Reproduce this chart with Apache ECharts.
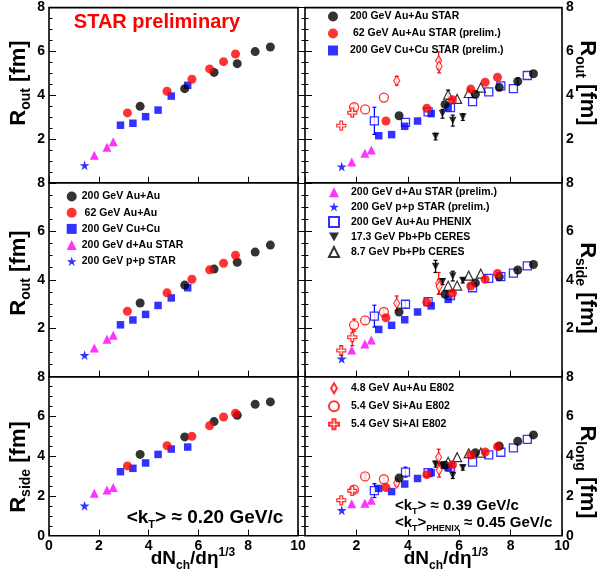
<!DOCTYPE html>
<html><head><meta charset="utf-8">
<script src="https://cdn.jsdelivr.net/npm/echarts@6/dist/echarts.min.js"></script>
<style>html,body{margin:0;padding:0;background:#fff}#c{width:602px;height:574px}</style>
</head><body><div id="c"></div>
<script>
// ---------------- DATA ----------------
// x = (dNch/deta)^(1/3)
const xAuAu200 = [3.66, 5.45, 6.63, 7.56, 8.28, 8.89];
const xAuAu62  = [3.15, 4.74, 5.74, 6.45, 7.01, 7.49];
const xCuCu    = [2.87, 3.37, 3.88, 4.38, 4.91, 5.57];
const xdAu     = [1.82, 2.33, 2.58];
const xpp      = [1.43];
const xPhenix  = [2.70, 3.91, 4.79, 5.66, 6.52, 7.15, 7.62, 8.11, 8.65];
const xCeres17 = [5.08, 5.35, 5.75, 6.14];
const xCeres9  = [5.57, 5.92, 6.37, 6.84];
const xE802Au  = [3.57, 5.20, 5.22];
const xE802SiAu = [1.91, 2.34, 3.07];
const xE802SiAl = [1.41, 1.84];

// left column, <kT> ~ 0.20 GeV/c
const loTopAuAu200 = [3.49, 4.30, 5.04, 5.44, 5.99, 6.20];
const loTopAuAu62  = [3.19, 4.18, 4.73, 5.20, 5.53, 5.88];
const loTopCuCu    = [2.63, 2.72, 3.02, 3.32, 3.96, 4.45];
const loTopdAu     = [1.26, 1.62, 1.88];
const loToppp      = [0.80];

const loMidAuAu200 = [3.04, 3.78, 4.44, 4.72, 5.14, 5.43];
const loMidAuAu62  = [2.70, 3.46, 4.02, 4.41, 4.68, 5.01];
const loMidCuCu    = [2.14, 2.34, 2.57, 2.94, 3.25, 3.67];
const loMiddAu     = [1.18, 1.55, 1.71];
const loMidpp      = [0.89];

const loBotAuAu200 = [4.09, 4.97, 5.74, 6.06, 6.61, 6.73];
const loBotAuAu62  = [3.51, 4.53, 5.00, 5.53, 5.97, 6.16];
const loBotCuCu    = [3.22, 3.39, 3.66, 4.09, 4.36, 4.46];
const loBotdAu     = [2.13, 2.30, 2.42];
const loBotpp      = [1.51];

// right column, <kT> ~ 0.39 GeV/c : Rout
const outAuAu200 = [3.06, 3.58, 4.04, 4.36, 4.63, 4.98];
const outAuAu62  = [2.82, 3.40, 3.79, 4.28, 4.59, 4.82];
const outCuCu    = [2.15, 2.20, 2.58, 2.82, 3.16, 3.43];
const outdAu     = [0.95, 1.35, 1.50];
const outpp      = [0.74];
const outPhenix  = [2.83, 2.76, 3.24, 3.43, 3.71, 4.15, 4.43, 4.30, 4.90];
const outCeres17 = [2.11, 3.15, 2.84, 3.00];
const outCeres9  = [4.03, 3.83, 4.10, 4.35];
const outE802Au  = [4.66, 5.58, 5.32];
const outE802SiAu = [3.45, 3.35, 3.89];
const outE802SiAl = [2.61, 3.20];
const errOutAuAu200 = [0, 0, 0, 0.15, 0.15, 0];
const errOutPhenix  = [0.62, 0, 0, 0, 0, 0, 0, 0, 0];
const errOutCeres17 = [0.15, 0.2, 0.25, 0.15];
const errOutCeres9  = [0.2, 0, 0, 0];
const errOutE802Au  = [0.2, 0.4, 0.3];
const errOutE802SiAu = [0.12, 0, 0];
const errOutE802SiAl = [0, 0.12];

// Rside
const sideAuAu200 = [2.67, 3.40, 3.87, 4.12, 4.40, 4.63];
const sideAuAu62  = [2.43, 3.07, 3.45, 3.74, 4.02, 4.26];
const sideCuCu    = [1.95, 2.12, 2.35, 2.67, 2.92, 3.19];
const sidedAu     = [1.10, 1.35, 1.51];
const sidepp      = [0.74];
const sidePhenix  = [2.50, 2.99, 3.10, 3.35, 3.67, 4.06, 4.13, 4.27, 4.57];
const sideCeres17 = [4.55, 3.92, 4.15, 3.97];
const sideCeres9  = [3.75, 3.76, 4.17, 4.25];
const sideE802Au  = [3.03, 3.85, 3.72];
const sideE802SiAu = [2.13, 2.32, 2.67];
const sideE802SiAl = [1.08, 1.63];
const errSidePhenix  = [0.45, 0.15, 0, 0, 0, 0, 0, 0, 0];
const errSideCeres17 = [0.25, 0.12, 0.2, 0.1];
const errSideE802Au  = [0.3, 0.45, 0.3];
const errSideE802SiAu = [0.25, 0.15, 0.1];
const errSideE802SiAl = [0.2, 0.35];

// Rlong
const longAuAu200 = [2.90, 3.55, 4.17, 4.51, 4.75, 5.07];
const longAuAu62  = [2.42, 3.07, 3.57, 4.06, 4.21, 4.48];
const longCuCu    = [2.38, 2.22, 2.60, 2.88, 3.17, 3.42];
const longdAu     = [1.61, 1.63, 1.78];
const longpp      = [1.28];
const longPhenix  = [2.27, 3.20, 3.17, 3.45, 3.70, 4.07, 4.20, 4.42, 4.85];
const longCeres17 = [3.60, 3.55, 3.03, 3.42];
const longCeres9  = [3.72, 3.95, 4.15, 4.18];
const longE802Au  = [2.65, 3.95, 3.30];
const longE802SiAu = [2.32, 2.98, 2.84];
const longE802SiAl = [1.78, 2.26];
const errLongPhenix  = [0.35, 0.25, 0, 0, 0, 0, 0, 0, 0];
const errLongCeres17 = [0.15, 0.15, 0.15, 0.12];
const errLongE802Au  = [0.15, 0.4, 0.35];
const errLongE802SiAu = [0.1, 0.12, 0.1];
const errLongE802SiAl = [0.1, 0.1];

const yTicks = [0, 2, 4, 6, 8];
const xTicks = [0, 2, 4, 6, 8, 10];

// ---------------- STYLE ----------------
const FONT = '"Liberation Sans", Arial, Helvetica, sans-serif';
const STAR = 'path://M50,0 L61,35 L98,35 L68,57 L79,91 L50,70 L21,91 L32,57 L2,35 L39,35 Z';
const PLUS = 'path://M35,0 L65,0 L65,35 L100,35 L100,65 L65,65 L65,100 L35,100 L35,65 L0,65 L0,35 L35,35 Z';
const INVTRI = 'path://M0,0 L100,0 L50,90 Z';
const DIAM = 'path://M30,0 L60,50 L30,100 L0,50 Z';
const ST = {
  AuAu200: {symbol: 'circle', symbolSize: 9, itemStyle: {color: '#000'}},
  AuAu62:  {symbol: 'circle', symbolSize: 9, itemStyle: {color: '#ff0000'}},
  CuCu:    {symbol: 'rect', symbolSize: 7.5, itemStyle: {color: '#0000ff'}},
  dAu:     {symbol: 'triangle', symbolSize: 9, itemStyle: {color: '#ff00ff'}},
  pp:      {symbol: STAR, symbolSize: 10, itemStyle: {color: '#0000ff'}},
  Phenix:  {symbol: 'rect', symbolSize: 8, itemStyle: {color: '#fff', borderColor: '#0000ff', borderWidth: 1.3}},
  Ceres17: {symbol: 'triangle', symbolSize: 7.5, symbolRotate: 180, itemStyle: {color: '#000'}},
  Ceres9:  {symbol: 'triangle', symbolSize: 9, itemStyle: {color: '#fff', borderColor: '#000', borderWidth: 1.2}},
  E802Au:  {symbol: 'diamond', symbolSize: [6, 10], itemStyle: {color: '#fff', borderColor: '#ff0000', borderWidth: 1.2}},
  E802SiAu:{symbol: 'circle', symbolSize: 9, itemStyle: {color: '#fff', borderColor: '#ff0000', borderWidth: 1.3}},
  E802SiAl:{symbol: PLUS, symbolSize: 9, itemStyle: {color: '#fff', borderColor: '#ff0000', borderWidth: 1.2}}
};
const ERRCOL = {AuAu200: '#000', Phenix: '#0000ff', Ceres17: '#000', Ceres9: '#000', E802Au: '#ff0000', E802SiAu: '#ff0000', E802SiAl: '#ff0000'};

const NL = {AuAu200: '200 GeV Au+Au', AuAu62: ' 62 GeV Au+Au', CuCu: '200 GeV Cu+Cu', dAu: '200 GeV d+Au STAR', pp: '200 GeV p+p STAR'};
const NR = {AuAu200: '200 GeV Au+Au STAR', AuAu62: ' 62 GeV Au+Au STAR (prelim.)', CuCu: '200 GeV Cu+Cu STAR (prelim.)',
  dAu: '200 GeV d+Au STAR (prelim.)', pp: '200 GeV p+p STAR (prelim.)', Phenix: '200 GeV Au+Au PHENIX',
  Ceres17: '17.3 GeV Pb+Pb CERES', Ceres9: '8.7 GeV Pb+Pb CERES', E802Au: '4.8 GeV Au+Au E802',
  E802SiAu: '5.4 GeV Si+Au E802', E802SiAl: '5.4 GeV Si+Al E802'};

const XS = {AuAu200: xAuAu200, AuAu62: xAuAu62, CuCu: xCuCu, dAu: xdAu, pp: xpp, Phenix: xPhenix,
  Ceres17: xCeres17, Ceres9: xCeres9, E802Au: xE802Au, E802SiAu: xE802SiAu, E802SiAl: xE802SiAl};

// ---------------- LAYOUT ----------------
const cols = [{left: 49, width: 249}, {left: 305, width: 257}];
const rows = [{top: 7.6, height: 175.2}, {top: 182.8, height: 193.9}, {top: 376.7, height: 159}];

const grid = [], xAxis = [], yAxis = [], series = [];
const labelFont = {fontFamily: FONT, fontWeight: 'bold', fontSize: 14, color: '#000'};

for (let c = 0; c < 2; c++) {
  for (let r = 0; r < 3; r++) {
    grid.push({left: cols[c].left, width: cols[c].width, top: rows[r].top, height: rows[r].height,
      show: true, borderColor: '#000', borderWidth: 1.6, backgroundColor: 'transparent', outerBoundsMode: 'none'});
    const gi = grid.length - 1;
    xAxis.push({type: 'value', gridIndex: gi, min: xTicks[0], max: xTicks[xTicks.length - 1], interval: 2,
      axisLine: {show: false}, splitLine: {show: false},
      axisTick: {show: true, inside: true, length: 6, lineStyle: {color: '#000', width: 1}},
      axisLabel: Object.assign({show: r === 2, margin: 3, showMinLabel: c === 0, showMaxLabel: true, hideOverlap: false}, labelFont)});
  }
}
for (let gi = 0; gi < 6; gi++) {
  const c = gi < 3 ? 0 : 1, r = gi % 3;
  yAxis.push({type: 'value', gridIndex: gi, position: c === 0 ? 'left' : 'right', min: yTicks[0], max: yTicks[yTicks.length - 1], interval: 2,
    axisLine: {show: false}, splitLine: {show: false},
    axisTick: {show: true, inside: true, length: 7, lineStyle: {color: '#000', width: 1}},
    minorTick: {show: true, splitNumber: 4, length: 3.5, lineStyle: {color: '#000', width: 1}},
    axisLabel: Object.assign({margin: 4, showMinLabel: r === 2, showMaxLabel: true, hideOverlap: false}, labelFont)});
}
for (let gi = 3; gi < 6; gi++) {
  yAxis.push({type: 'value', gridIndex: gi, position: 'left', min: 0, max: 8, interval: 2,
    axisLine: {show: false}, splitLine: {show: false},
    axisTick: {show: true, inside: true, length: 7, lineStyle: {color: '#000', width: 1}},
    minorTick: {show: true, splitNumber: 4, length: 3.5, lineStyle: {color: '#000', width: 1}},
    axisLabel: {show: false}});
}

function pts(xs, ys) { return xs.map((x, i) => [x, ys[i]]); }
function addScatter(name, key, ys, gi, yi) {
  const s = ST[key];
  series.push(Object.assign({type: 'scatter', name: name, xAxisIndex: gi, yAxisIndex: yi,
    data: pts(XS[key], ys), z: 3}, JSON.parse(JSON.stringify(s))));
}
function addErr(key, ys, errs, gi, yi) {
  const xs = XS[key];
  const data = [];
  xs.forEach((x, i) => { if (errs[i] > 0) data.push([x, ys[i] - errs[i], ys[i] + errs[i]]); });
  const col = ERRCOL[key];
  series.push({type: 'custom', name: 'err_' + key, xAxisIndex: gi, yAxisIndex: yi, data: data, z: 2,
    encode: {x: 0, y: [1, 2]}, silent: true,
    renderItem: function (params, api) {
      const x = api.value(0), lo = api.value(1), hi = api.value(2);
      const p1 = api.coord([x, lo]), p2 = api.coord([x, hi]);
      const w = 2, st = {stroke: col, lineWidth: 1.2};
      return {type: 'group', children: [
        {type: 'line', shape: {x1: p1[0], y1: p1[1], x2: p2[0], y2: p2[1]}, style: st},
        {type: 'line', shape: {x1: p1[0] - w, y1: p1[1], x2: p1[0] + w, y2: p1[1]}, style: st},
        {type: 'line', shape: {x1: p2[0] - w, y1: p2[1], x2: p2[0] + w, y2: p2[1]}, style: st}
      ]};
    }});
}

const leftSets = [
  {CuCu: loTopCuCu, dAu: loTopdAu, pp: loToppp, AuAu200: loTopAuAu200, AuAu62: loTopAuAu62},
  {CuCu: loMidCuCu, dAu: loMiddAu, pp: loMidpp, AuAu200: loMidAuAu200, AuAu62: loMidAuAu62},
  {CuCu: loBotCuCu, dAu: loBotdAu, pp: loBotpp, AuAu200: loBotAuAu200, AuAu62: loBotAuAu62}
];
leftSets.forEach((set, r) => {
  Object.keys(set).forEach(k => addScatter(NL[k], k, set[k], r, r));
});

const rightSets = [
  {vals: {Phenix: outPhenix, Ceres9: outCeres9, Ceres17: outCeres17, E802Au: outE802Au, E802SiAu: outE802SiAu, E802SiAl: outE802SiAl,
          CuCu: outCuCu, dAu: outdAu, pp: outpp, AuAu200: outAuAu200, AuAu62: outAuAu62},
   errs: {AuAu200: errOutAuAu200, Phenix: errOutPhenix, Ceres17: errOutCeres17, Ceres9: errOutCeres9, E802Au: errOutE802Au, E802SiAu: errOutE802SiAu, E802SiAl: errOutE802SiAl}},
  {vals: {Phenix: sidePhenix, Ceres9: sideCeres9, Ceres17: sideCeres17, E802Au: sideE802Au, E802SiAu: sideE802SiAu, E802SiAl: sideE802SiAl,
          CuCu: sideCuCu, dAu: sidedAu, pp: sidepp, AuAu200: sideAuAu200, AuAu62: sideAuAu62},
   errs: {Phenix: errSidePhenix, Ceres17: errSideCeres17, E802Au: errSideE802Au, E802SiAu: errSideE802SiAu, E802SiAl: errSideE802SiAl}},
  {vals: {Phenix: longPhenix, Ceres9: longCeres9, Ceres17: longCeres17, E802Au: longE802Au, E802SiAu: longE802SiAu, E802SiAl: longE802SiAl,
          CuCu: longCuCu, dAu: longdAu, pp: longpp, AuAu200: longAuAu200, AuAu62: longAuAu62},
   errs: {Phenix: errLongPhenix, Ceres17: errLongCeres17, E802Au: errLongE802Au, E802SiAu: errLongE802SiAu, E802SiAl: errLongE802SiAl}}
];
rightSets.forEach((set, r) => {
  const gi = 3 + r;
  Object.keys(set.errs).forEach(k => addErr(k, set.vals[k], set.errs[k], gi, gi));
  Object.keys(set.vals).forEach(k => addScatter(NR[k], k, set.vals[k], gi, gi));
});

// ---------------- LEGENDS ----------------
const legTxt = {fontFamily: FONT, fontWeight: 'bold', fontSize: 10.5, color: '#000'};
const legTxtR = Object.assign({}, legTxt, {padding: [0, 0, 0, 7]});
function li(name, icon) { return icon ? {name: name, icon: icon} : {name: name}; }
const legend = [
  {data: [li(NR.AuAu200), li(NR.AuAu62), li(NR.CuCu)], left: 328, top: 11, itemGap: 6, textStyle: legTxtR},
  {data: [li(NR.dAu), li(NR.pp), li(NR.Phenix), li(NR.Ceres17, INVTRI), li(NR.Ceres9)], left: 328, top: 186.7, itemGap: 3.6, textStyle: legTxtR},
  {data: [li(NR.E802Au, DIAM), li(NR.E802SiAu), li(NR.E802SiAl)], left: 328, top: 382.3, itemGap: 6, textStyle: legTxtR},
  {data: [li(NL.AuAu200), li(NL.AuAu62), li(NL.CuCu), li(NL.dAu), li(NL.pp)], left: 66.7, top: 191, itemGap: 5.2, textStyle: legTxt}
].map(l => Object.assign({orient: 'vertical', itemWidth: 10, itemHeight: 10, padding: 0, selectedMode: false,
  symbolKeepAspect: true}, l));

// ---------------- TEXT ----------------
const RM = (size, va) => ({fontFamily: FONT, fontWeight: 'bold', fontSize: size, lineHeight: size + 6, verticalAlign: va || 'middle', fill: '#000'});
const RS = (size, va) => ({fontFamily: FONT, fontWeight: 'bold', fontSize: size, lineHeight: size + 1, verticalAlign: va, fill: '#000'});
function ytitle(sub, x, y, rot) {
  return {type: 'text', x: x, y: y, rotation: rot, silent: true,
    style: {text: '{m|R}{s|' + sub + '}{m| [fm]}', align: 'center', verticalAlign: 'middle',
      rich: {m: RM(22), s: RS(14, 'bottom')}}};
}
function xtitle(x, y) {
  return {type: 'text', x: x, y: y, silent: true,
    style: {text: '{m|dN}{s|ch}{m|/dη}{t|1/3}', align: 'center', verticalAlign: 'middle',
      rich: {m: RM(19), s: RS(12, 'bottom'), t: RS(12, 'top')}}};
}
function rtext(str, x, y, size, align) {
  const sub = Math.round(size * 0.6);
  return {type: 'text', x: x, y: y, silent: true,
    style: {text: str, align: align, verticalAlign: 'middle',
      rich: {m: RM(size), s: RS(sub, 'bottom')}}};
}

const graphic = [
  {type: 'text', x: 157, y: 22, silent: true,
   style: {text: 'STAR preliminary', align: 'center', verticalAlign: 'middle', font: 'bold 20px ' + FONT, fill: '#ff0000'}},
  ytitle('out', 19, 83, Math.PI / 2),
  ytitle('out', 19, 273, Math.PI / 2),
  ytitle('side', 19, 467, Math.PI / 2),
  ytitle('out', 587, 83, -Math.PI / 2),
  ytitle('side', 587, 288, -Math.PI / 2),
  ytitle('long', 587, 472, -Math.PI / 2),
  xtitle(193, 559),
  xtitle(446, 559),
  rtext('{m|<k}{s|T}{m|> ≈ 0.20 GeV/c}', 205, 518, 19, 'center'),
  rtext('{m|<k}{s|T}{m|> ≈ 0.39 GeV/c}', 395, 506, 15, 'left'),
  rtext('{m|<k}{s|T}{m|>}{s|PHENIX}{m| ≈ 0.45 GeV/c}', 395, 523, 15, 'left')
];

const chart = echarts.init(document.getElementById('c'), null, {renderer: 'canvas'});
chart.setOption({
  animation: false, backgroundColor: '#fff',
  grid: grid, xAxis: xAxis, yAxis: yAxis, series: series, legend: legend, graphic: graphic
});
</script></body></html>
